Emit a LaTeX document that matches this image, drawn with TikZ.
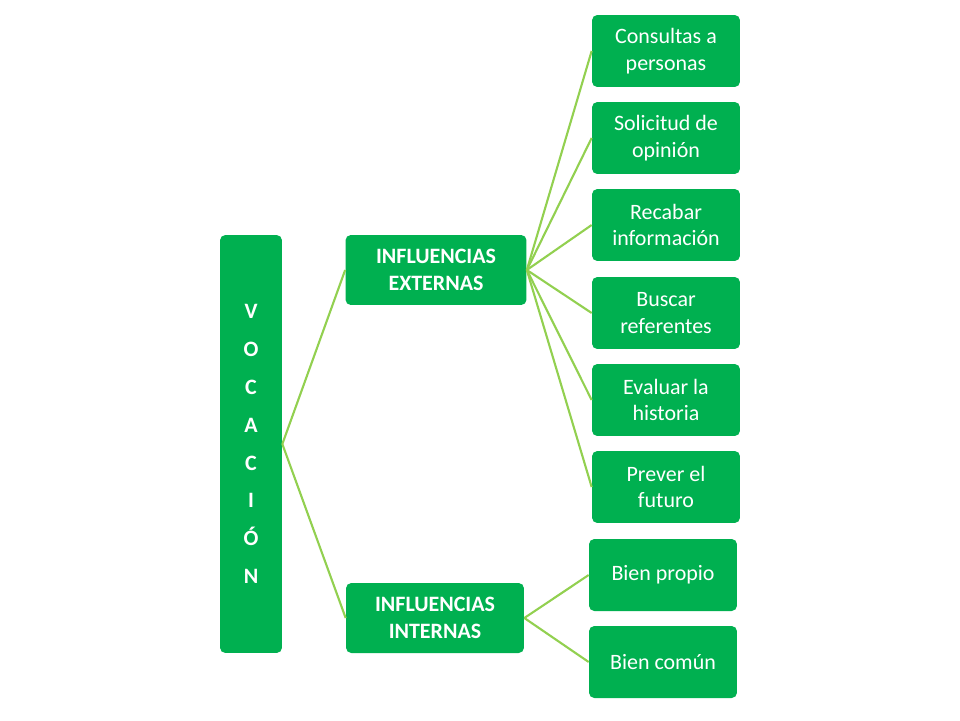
\documentclass[tikz,border=0pt]{standalone}
\usepackage{fontspec}
\setmainfont{Carlito}
\usetikzlibrary{positioning}
\definecolor{boxgreen}{RGB}{0,176,80}
\definecolor{linegreen}{RGB}{146,208,80}
\tikzset{
  box/.style={fill=boxgreen, text=white, rounded corners=3pt, align=center,
    font=\fontsize{12.5}{15}\selectfont, inner sep=0pt},
  leaf/.style={box, minimum width=2.96cm, minimum height=1.44cm},
  branch/.style={box, font=\fontsize{12.5}{15}\selectfont\bfseries, minimum height=1.4cm},
  link/.style={linegreen, line width=1.2pt}
}
\begin{document}
\begin{tikzpicture}[x=0.02cm, y=-0.02cm]
\useasboundingbox (0,0) rectangle (960,720);

% root
\node[box, font=\fontsize{12.5}{21.5}\selectfont\bfseries, minimum width=1.24cm, minimum height=8.36cm] (voc) at (251,444)
  {V\\O\\C\\A\\C\\I\\Ó\\N};

% branches
\node[branch, minimum width=3.62cm] (ext) at (436,270) {INFLUENCIAS\\EXTERNAS};
\node[branch, minimum width=3.56cm] (int) at (435,618) {INFLUENCIAS\\INTERNAS};

% leaves of the external branch
\node[leaf] (e1) at (666,51) {Consultas a\\personas};
\node[leaf] (e2) at (666,138) {Solicitud de\\opinión};
\node[leaf] (e3) at (666,225) {Recabar\\información};
\node[leaf] (e4) at (666,313) {Buscar\\referentes};
\node[leaf] (e5) at (666,400) {Evaluar la\\historia};
\node[leaf] (e6) at (666,487) {Prever el\\futuro};

% leaves of the internal branch
\node[leaf] (i1) at (663,575) {Bien propio};
\node[leaf] (i2) at (663,662) {Bien común};

% links
\draw[link] (voc.east) -- (ext.west);
\draw[link] (voc.east) -- (int.west);
\foreach \n in {e1,e2,e3,e4,e5,e6}
  \draw[link] (ext.east) -- (\n.west);
\foreach \n in {i1,i2}
  \draw[link] (int.east) -- (\n.west);
\end{tikzpicture}
\end{document}
